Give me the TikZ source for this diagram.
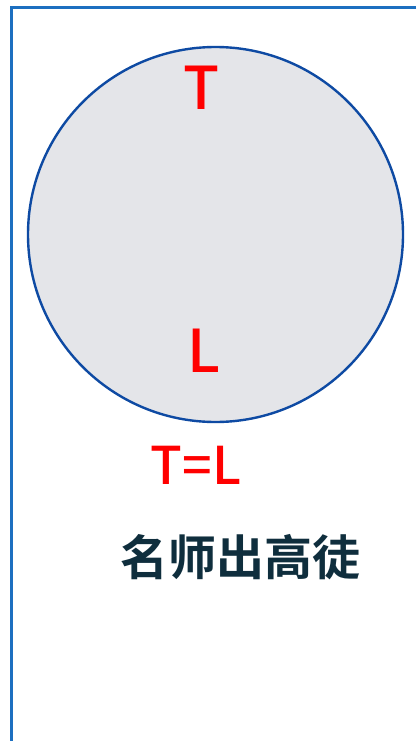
\documentclass[tikz,border=0pt]{standalone}
\usepackage{fontspec}
\setmainfont{Liberation Sans}
\newfontfamily\cjkbold{Noto Sans CJK SC Bold}
\newfontfamily\latinmed{Noto Sans CJK SC Medium}
\definecolor{frameblue}{HTML}{1C6FC0}
\definecolor{ringblue}{HTML}{0E4AA3}
\definecolor{discgray}{HTML}{E4E5E9}
\definecolor{letterred}{HTML}{FF0000}
\definecolor{inkteal}{HTML}{0F2E3D}
\begin{document}
\begin{tikzpicture}[x=1pt,y=1pt,
  frameline/.style={draw=frameblue,line width=2.4pt},
  disc/.style={circle,draw=ringblue,fill=discgray,line width=2.4pt,minimum size=375pt,inner sep=0pt},
  bigletter/.style={text=letterred,font=\latinmed\fontsize{59}{59}\selectfont,inner sep=0pt},
  eqtext/.style={text=letterred,font=\latinmed\fontsize{52}{52}\selectfont,inner sep=0pt},
  motto/.style={text=inkteal,font=\cjkbold\fontsize{48}{48}\selectfont,inner sep=0pt}]
\useasboundingbox (0,0) rectangle (416,-741);
\fill[white] (0,0) rectangle (416,-741);
\coordinate (ftop) at (416,-7.5);
\coordinate (fcorner) at (11.5,-7.5);
\coordinate (fbottom) at (11.5,-741);
\draw[frameline] (ftop) -- (fcorner) -- (fbottom);
\node[disc] (circ) at (215.5,-234.5) {};
\node[bigletter,anchor=base] (T) at (202,-110) {T};
\node[bigletter,anchor=base] (L) at (204,-372) {L};
\node[eqtext,anchor=base] (eq) at (196,-484) {T=L};
\node[motto,anchor=center] (cn) at (240,-557) {名师出高徒};
\end{tikzpicture}
\end{document}
